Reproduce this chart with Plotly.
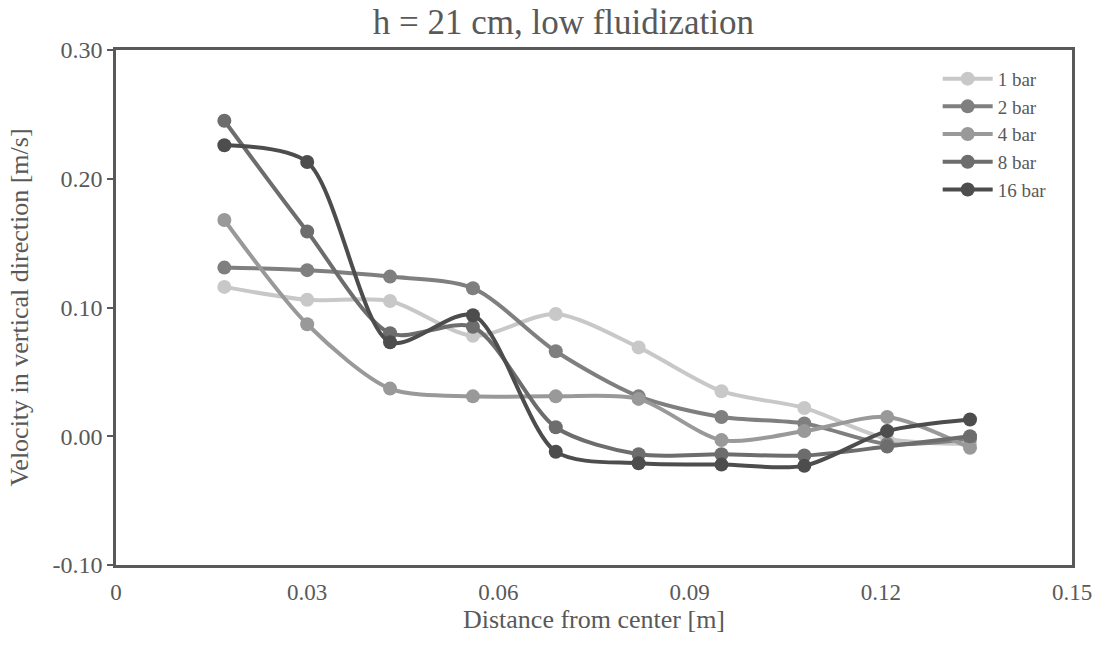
import plotly.graph_objects as go

distance = [0.017, 0.030, 0.043, 0.056, 0.069, 0.082, 0.095, 0.108, 0.121, 0.134]
v_1bar = [0.116, 0.106, 0.105, 0.078, 0.095, 0.069, 0.035, 0.022, -0.002, -0.006]
v_2bar = [0.131, 0.129, 0.124, 0.115, 0.066, 0.031, 0.015, 0.010, -0.006, -0.002]
v_4bar = [0.168, 0.087, 0.037, 0.031, 0.031, 0.029, -0.003, 0.004, 0.015, -0.009]
v_8bar = [0.245, 0.159, 0.080, 0.085, 0.007, -0.014, -0.014, -0.015, -0.008, 0.000]
v_16bar = [0.226, 0.213, 0.073, 0.094, -0.012, -0.021, -0.022, -0.023, 0.004, 0.013]

series_names = ["1 bar", "2 bar", "4 bar", "8 bar", "16 bar"]
series_values = [v_1bar, v_2bar, v_4bar, v_8bar, v_16bar]
colors = ["#c8c8c8", "#7f7f7f", "#999999", "#6d6d6d", "#4d4d4d"]

x_ticks = [0, 0.03, 0.06, 0.09, 0.12, 0.15]
x_tick_labels = ["0", "0.03", "0.06", "0.09", "0.12", "0.15"]
y_ticks = [-0.10, 0.00, 0.10, 0.20, 0.30]
y_tick_labels = ["-0.10", "0.00", "0.10", "0.20", "0.30"]

FONT = "Liberation Serif, Times New Roman, serif"
TXT = "#595959"

fig = go.Figure()
for name, vals, col in zip(series_names, series_values, colors):
    fig.add_trace(go.Scatter(
        x=distance, y=vals, name=name, mode="lines+markers",
        line=dict(color=col, width=4, shape="spline", smoothing=0.8),
        marker=dict(color=col, size=14),
    ))

fig.update_layout(
    width=1096, height=646,
    paper_bgcolor="white", plot_bgcolor="white",
    margin=dict(l=116, r=24, t=50, b=81),
    font=dict(family=FONT, color=TXT, size=20),
    title=dict(text="h = 21 cm, low fluidization", x=0.514, xanchor="center",
               y=1 - 22 / 646, yanchor="middle",
               font=dict(family=FONT, size=35, color=TXT)),
    showlegend=True,
    legend=dict(x=0.8595, y=0.981, xanchor="left", yanchor="top",
                bgcolor="rgba(0,0,0,0)", font=dict(family=FONT, size=19, color=TXT),
                tracegroupgap=0, itemwidth=50),
    xaxis=dict(range=[0, 0.15], tickvals=x_ticks, ticktext=x_tick_labels,
               showgrid=False, zeroline=False, showline=True, linecolor=TXT,
               linewidth=2.5, mirror=True, ticks="", ticklabelstandoff=5,
               automargin=False,
               title=dict(text="Distance from center [m]", standoff=6,
                          font=dict(family=FONT, size=26, color=TXT)),
               tickfont=dict(family=FONT, size=23, color=TXT)),
    yaxis=dict(range=[-0.10, 0.30], tickvals=y_ticks, ticktext=y_tick_labels,
               showgrid=False, zeroline=False, showline=True, linecolor=TXT,
               linewidth=2.5, mirror=True, ticks="outside", ticklen=6,
               tickcolor=TXT, tickwidth=2, automargin=False,
               title=dict(text="Velocity in vertical direction [m/s]", standoff=17,
                          font=dict(family=FONT, size=26, color=TXT)),
               tickfont=dict(family=FONT, size=24, color=TXT)),
)

fig.write_html("out.html")
